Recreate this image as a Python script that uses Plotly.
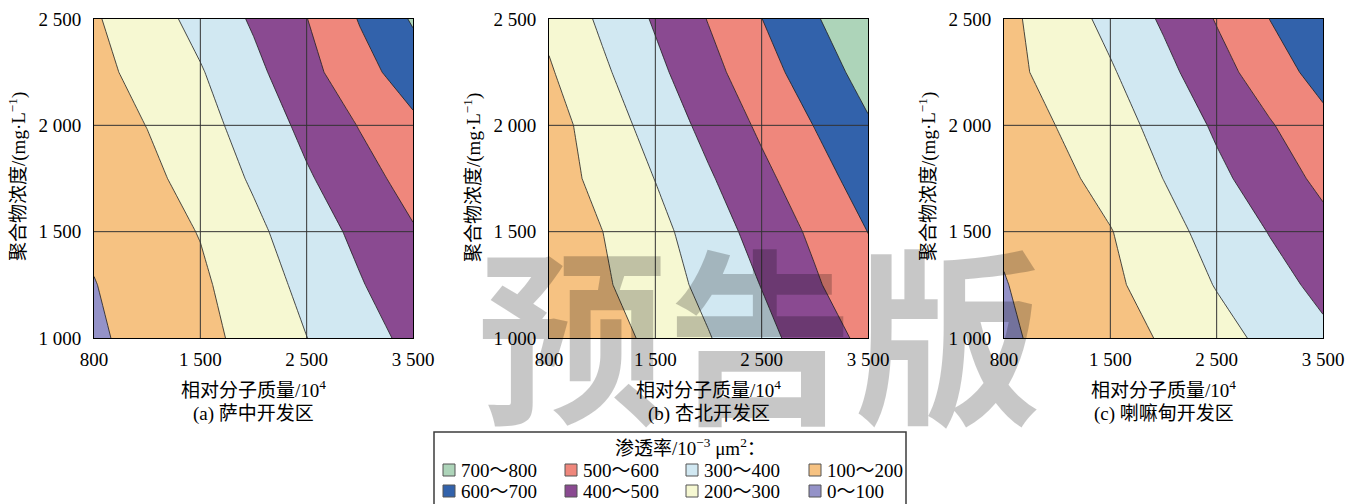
import plotly.graph_objects as go

W, H = 1362, 504

# Axis categories and ticks
mw_ticks = ["800", "1 500", "2 500", "3 500"]          # relative molecular mass /10^4
conc_ticks = [1000, 1500, 2000, 2500]                   # polymer concentration, mg/L
conc_ticktext = ["1 000", "1 500", "2 000", "2 500"]

# Sampling grid: x is the position along the molecular-mass axis (0=800, 1=1500, 2=2500, 3=3500)
x_grid = [0, 0.5, 1, 1.5, 2, 2.5, 3]
y_grid = [1000, 1250, 1500, 1750, 2000, 2250, 2500]

# Permeability (10^-3 um^2), one row per concentration in y_grid
perm_sazhong = [
    [86, 130, 174, 229, 299, 362, 425],
    [97, 143, 184, 253, 325, 393, 462],
    [116, 159, 204, 279, 351, 423, 492],
    [125, 174, 242, 311, 389, 462, 537],
    [148, 202, 266, 341, 425, 505, 580],
    [172, 232, 293, 375, 469, 564, 650],
    [190, 257, 330, 412, 498, 606, 710],
]
perm_xingbei = [
    [110, 163, 221, 295, 371, 448, 527],
    [118, 186, 255, 326, 403, 488, 573],
    [126, 199, 271, 352, 437, 519, 601],
    [154, 228, 302, 389, 476, 560, 645],
    [159, 248, 338, 429, 517, 603, 690],
    [190, 283, 376, 469, 561, 650, 736],
    [222, 317, 411, 504, 599, 691, 775],
]
perm_lamadian = [
    [86, 125, 165, 208, 266, 325, 380],
    [96, 140, 183, 239, 305, 365, 425],
    [112, 154, 196, 266, 336, 404, 472],
    [125, 174, 233, 301, 377, 452, 522],
    [142, 202, 261, 330, 415, 492, 572],
    [171, 231, 290, 372, 463, 552, 638],
    [174, 249, 327, 413, 506, 601, 685],
]

panel_titles = ["(a) 萨中开发区", "(b) 杏北开发区", "(c) 喇嘛甸开发区"]

band_labels = ["0～100", "100～200", "200～300", "300～400",
               "400～500", "500～600", "600～700", "700～800"]
band_colors = ["#9492c8", "#f6c282", "#f6f8d2", "#d1e8f2",
               "#8a4a91", "#ef877c", "#3262ab", "#add4b9"]

FONT = "'Liberation Serif', 'Noto Sans CJK SC', serif"
FS = 19

# one colour per band: contour fills sample the scale at band mid-points
colorscale = [[k / 7, c] for k, c in enumerate(band_colors)]

panel_left = [94, 549, 1004]
panel_w = 319
plot_top, plot_bottom = 19, 338


def px(x):
    return x / W


def py(y):
    return 1 - y / H


fig = go.Figure()
shapes = []
annotations = []

for i, z in enumerate([perm_sazhong, perm_xingbei, perm_lamadian]):
    xa = "x" if i == 0 else f"x{i + 1}"
    ya = "y" if i == 0 else f"y{i + 1}"
    fig.add_trace(go.Contour(
        x=x_grid, y=y_grid, z=z,
        autocontour=False,
        contours=dict(start=100, end=700, size=100, coloring="fill", showlines=True),
        line=dict(color="#1e1e1e", width=0.8, smoothing=0),
        colorscale=colorscale, showscale=False,
        hoverinfo="skip", xaxis=xa, yaxis=ya,
    ))

    left = panel_left[i]
    dom_x = [px(left), px(left + panel_w)]
    dom_y = [py(plot_bottom), py(plot_top)]
    axis_common = dict(showgrid=False, zeroline=False, showline=True, mirror=True,
                       linecolor="black", linewidth=1, ticks="", automargin=False,
                       tickfont=dict(family=FONT, size=FS, color="black"))
    fig.update_layout(**{
        ("xaxis" if i == 0 else f"xaxis{i + 1}"): dict(
            domain=dom_x, anchor=ya, range=[0, 3],
            tickmode="array", tickvals=[0, 1, 2, 3], ticktext=mw_ticks,
            ticklabelstandoff=4, **axis_common),
        ("yaxis" if i == 0 else f"yaxis{i + 1}"): dict(
            domain=dom_y, anchor=xa, range=[1000, 2500],
            tickmode="array", tickvals=conc_ticks, ticktext=conc_ticktext,
            ticklabelstandoff=8, **axis_common),
    })

    # grid lines drawn over the filled contours
    for gx in [1, 2]:
        shapes.append(dict(type="line", xref=xa, yref=ya, x0=gx, x1=gx, y0=1000, y1=2500,
                           line=dict(color="#333333", width=1), layer="above"))
    for gy in [1500, 2000]:
        shapes.append(dict(type="line", xref=xa, yref=ya, x0=0, x1=3, y0=gy, y1=gy,
                           line=dict(color="#333333", width=1), layer="above"))

    cx = left + panel_w / 2
    annotations.append(dict(text="聚合物浓度/(mg·L<sup>−1</sup>)", textangle=-90,
                            x=px(left - 77), y=py(177), xref="paper", yref="paper",
                            xanchor="center", yanchor="middle", showarrow=False,
                            font=dict(family=FONT, size=FS, color="black")))
    annotations.append(dict(text="相对分子质量/10<sup>4</sup>",
                            x=px(cx), y=py(389), xref="paper", yref="paper",
                            xanchor="center", yanchor="middle", showarrow=False,
                            font=dict(family=FONT, size=FS, color="black")))
    annotations.append(dict(text=panel_titles[i],
                            x=px(cx), y=py(414), xref="paper", yref="paper",
                            xanchor="center", yanchor="middle", showarrow=False,
                            font=dict(family=FONT, size=FS, color="black")))

# legend box
shapes.append(dict(type="rect", xref="paper", yref="paper",
                   x0=px(434), x1=px(906), y0=py(512), y1=py(432),
                   line=dict(color="#3c3c3c", width=1.5), fillcolor="white", layer="above"))
annotations.append(dict(text="渗透率/10<sup>−3</sup> μm<sup>2</sup>：",
                        x=px(691), y=py(447), xref="paper", yref="paper",
                        xanchor="center", yanchor="middle", showarrow=False,
                        font=dict(family=FONT, size=FS, color="black")))

legend_cols = [443, 565, 686, 809]
legend_rows = [470, 491]
order = [7, 6, 5, 4, 3, 2, 1, 0]   # column-major, highest band first
for n, b in enumerate(order):
    col, row = n // 2, n % 2
    sx, sy = legend_cols[col], legend_rows[row]
    shapes.append(dict(type="rect", xref="paper", yref="paper",
                       x0=px(sx), x1=px(sx + 12), y0=py(sy + 6), y1=py(sy - 6),
                       line=dict(color="#555555", width=1), fillcolor=band_colors[b],
                       layer="above"))
    annotations.append(dict(text=band_labels[b], x=px(sx + 16), y=py(sy),
                            xref="paper", yref="paper", xanchor="left", yanchor="middle",
                            showarrow=False, font=dict(family=FONT, size=FS, color="black")))

# watermark
annotations.append(dict(text="预告版", x=px(760), y=py(327), xref="paper", yref="paper",
                        xanchor="center", yanchor="middle", showarrow=False,
                        font=dict(family="'Noto Sans CJK SC'", size=188,
                                  color="rgba(0,0,0,0.22)", weight="bold")))

fig.update_layout(width=W, height=H,
                  margin=dict(l=0, r=0, t=0, b=0, pad=0, autoexpand=False),
                  paper_bgcolor="white", plot_bgcolor="white",
                  shapes=shapes, annotations=annotations, showlegend=False)

fig.write_html("out.html")
